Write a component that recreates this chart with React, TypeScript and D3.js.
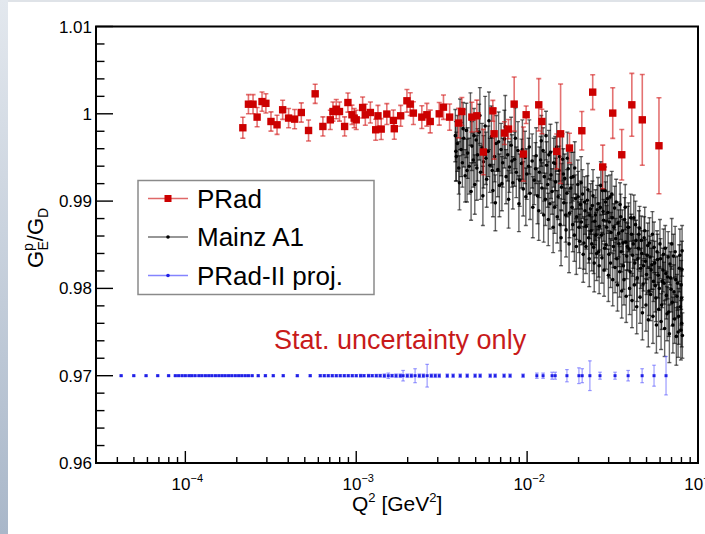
import React from "react";
import * as d3 from "d3";

// ---------- DATA ----------
const pradQ2 = [
  2.17e-4, 2.34e-4, 2.49e-4, 2.63e-4, 2.81e-4, 2.96e-4, 3.17e-4, 3.44e-4, 3.71e-4, 4.02e-4,
  4.36e-4, 4.77e-4, 5.26e-4, 5.75e-4, 6.38e-4, 7.05e-4, 7.31e-4, 7.64e-4, 7.98e-4, 8.55e-4,
  8.94e-4, 9.44e-4, 9.73e-4, 1.0e-3, 1.09e-3, 1.13e-3, 1.21e-3, 1.30e-3, 1.34e-3, 1.40e-3,
  1.51e-3, 1.65e-3, 1.67e-3, 1.82e-3, 1.98e-3, 2.07e-3, 2.16e-3, 2.42e-3, 2.59e-3, 2.71e-3,
  3.06e-3, 3.24e-3, 3.52e-3, 3.97e-3, 4.15e-3, 4.75e-3, 5.08e-3, 5.55e-3, 6.30e-3, 6.41e-3,
  7.37e-3, 7.78e-3, 8.4e-3, 9.51e-3, 9.87e-3, 0.0117, 0.0122, 0.0149, 0.0157, 0.0177,
  0.0209, 0.0242, 0.0277, 0.0317, 0.0358, 0.041, 0.0472, 0.0591,
];
const pradG = [
  0.9984, 1.0011, 1.0011, 0.99962, 1.0014, 1.0012, 0.99912, 0.99874, 1.00046, 0.99951,
  0.99939, 1.00015, 0.99809, 1.00229, 0.99855, 0.99931, 1.00026, 1.00053, 1.00026, 0.99855,
  1.00129, 0.99989, 0.99951, 0.99931, 1.00072, 0.99989, 1.00015, 0.99817, 0.99977, 0.99825,
  0.99997, 0.99924, 0.99829, 0.99977, 1.00149, 1.00111, 1.00008, 0.99962, 0.99989, 0.99912,
  1.0, 1.00076, 0.99962, 0.99894, 1.00026, 0.99962, 0.99977, 0.99562, 1.00034, 0.99771,
  0.99779, 0.99825, 1.00111, 0.99539, 0.99989, 1.00103, 0.99912, 0.99569, 0.99771, 0.99608,
  0.99806, 1.00248, 0.99391, 1.00008, 0.99531, 1.00103, 0.99931, 0.99634,
];
const pradErr = [
  0.0012, 0.0011, 0.0011, 0.0011, 0.0011, 0.0011, 0.0011, 0.0011, 0.0011, 0.0011,
  0.0011, 0.0011, 0.0012, 0.0011, 0.0011, 0.0011, 0.0011, 0.0011, 0.0011, 0.0011,
  0.0011, 0.0011, 0.0011, 0.0011, 0.0012, 0.0012, 0.0012, 0.0012, 0.0012, 0.0012,
  0.0012, 0.0012, 0.0012, 0.0012, 0.0013, 0.0013, 0.0013, 0.0013, 0.0013, 0.0013,
  0.0013, 0.0014, 0.0015, 0.0017, 0.0016, 0.0017, 0.0018, 0.0026, 0.0012, 0.0029,
  0.0013, 0.0011, 0.0031, 0.0031, 0.001, 0.003, 0.0014, 0.002, 0.0057, 0.0017,
  0.0022, 0.002, 0.0025, 0.0029, 0.0029, 0.0036, 0.0052, 0.0055,
];

// Mainz A1: [Q2, GE/GD, stat. error]
const mainzA1: [number, number, number][] = [
  [0.0038, 0.9975, 0.003], [0.00385, 0.9951, 0.0028], [0.00391, 0.9966, 0.0032], [0.00398, 0.9938, 0.003],
  [0.00405, 0.9988, 0.0029], [0.00411, 0.9959, 0.0031], [0.00418, 0.9944, 0.0028], [0.00426, 0.9972, 0.0033],
  [0.00434, 0.9929, 0.003], [0.00441, 0.9981, 0.0031], [0.00449, 0.9955, 0.0029], [0.00458, 0.994, 0.0032],
  [0.00466, 0.9994, 0.003], [0.00475, 0.9963, 0.0028], [0.00484, 0.9947, 0.0031], [0.00494, 0.9919, 0.0034],
  [0.00503, 0.997, 0.0029], [0.00513, 0.9953, 0.003], [0.00524, 0.9979, 0.0032], [0.00534, 0.9933, 0.0031],
  [0.00545, 0.9961, 0.0028], [0.00556, 0.9945, 0.003], [0.00568, 0.9986, 0.0034], [0.0058, 0.9925, 0.0032],
  [0.00592, 0.9957, 0.0029], [0.00605, 0.9941, 0.0031], [0.00618, 0.9974, 0.0035], [0.00631, 0.9912, 0.003],
  [0.00645, 0.9951, 0.0029], [0.00659, 0.9966, 0.0032], [0.00674, 0.9936, 0.0031], [0.00689, 0.9918, 0.0036],
  [0.00704, 0.9959, 0.003], [0.0072, 0.9944, 0.0028], [0.00736, 0.9971, 0.0033], [0.00753, 0.9928, 0.0031],
  [0.0077, 0.9953, 0.003], [0.00788, 0.9939, 0.0029], [0.00806, 0.9964, 0.0032], [0.00825, 0.9921, 0.003],
  [0.00844, 0.9948, 0.0031], [0.00864, 0.9933, 0.0029], [0.00884, 0.9958, 0.0033], [0.00905, 0.9924, 0.003],
  [0.00927, 0.9943, 0.0028], [0.00949, 0.9914, 0.0031], [0.00972, 0.995, 0.003], [0.00995, 0.9931, 0.0029],
  [0.0102, 0.994, 0.0032], [0.0104, 0.9909, 0.003], [0.0107, 0.9946, 0.0031], [0.011, 0.9924, 0.0028],
  [0.0112, 0.9937, 0.003], [0.0115, 0.9906, 0.0032], [0.0118, 0.9933, 0.0029],
  [0.00383, 0.9957, 0.0034], [0.00402, 0.9921, 0.0031], [0.00422, 0.9983, 0.003], [0.00445, 0.9935, 0.0036],
  [0.0047, 0.9911, 0.0033], [0.00489, 0.9975, 0.0031], [0.00508, 0.9938, 0.0037], [0.00529, 0.9998, 0.0032],
  [0.00551, 0.9906, 0.0034], [0.00574, 0.9949, 0.003], [0.00598, 0.9992, 0.0033], [0.00625, 0.9935, 0.0037],
  [0.00652, 0.9898, 0.0032], [0.00681, 0.9968, 0.0034], [0.00712, 0.992, 0.0031], [0.00745, 0.9985, 0.0036],
  [0.00779, 0.9902, 0.0033], [0.00815, 0.9946, 0.003], [0.00854, 0.9972, 0.0035], [0.00895, 0.9897, 0.0032],
  [0.00938, 0.9959, 0.0034], [0.00983, 0.9905, 0.0033], [0.0103, 0.9962, 0.0031], [0.0108, 0.9893, 0.0035],
  [0.0113, 0.9952, 0.0032], [0.0117, 0.9889, 0.0034],
  [0.012, 0.9947, 0.0027], [0.0122, 0.9915, 0.0029], [0.0124, 0.9958, 0.0026], [0.0126, 0.9928, 0.0028],
  [0.0128, 0.9902, 0.003], [0.013, 0.9941, 0.0027], [0.0132, 0.9919, 0.0026], [0.0134, 0.9953, 0.0028],
  [0.0136, 0.9897, 0.0029], [0.0138, 0.993, 0.0027], [0.014, 0.9911, 0.0026], [0.0143, 0.9944, 0.0028],
  [0.0145, 0.9893, 0.003], [0.0147, 0.9922, 0.0027], [0.0149, 0.9962, 0.0028], [0.0152, 0.9905, 0.0026],
  [0.0154, 0.9935, 0.0028], [0.0156, 0.9873, 0.003], [0.0159, 0.9916, 0.0027], [0.0161, 0.9948, 0.0029],
  [0.0164, 0.9898, 0.0026], [0.0166, 0.9926, 0.0028], [0.0169, 0.9867, 0.0031], [0.0171, 0.9909, 0.0027],
  [0.0174, 0.9937, 0.0026], [0.0177, 0.9886, 0.0028], [0.018, 0.9915, 0.0027], [0.0183, 0.9893, 0.0026],
  [0.0186, 0.9928, 0.0028], [0.0189, 0.9861, 0.003], [0.0192, 0.9903, 0.0027], [0.0195, 0.9882, 0.0026],
  [0.0198, 0.9919, 0.0028], [0.0201, 0.987, 0.0029], [0.0205, 0.9896, 0.0027], [0.0208, 0.9876, 0.0026],
  [0.0211, 0.9908, 0.0028], [0.0215, 0.9852, 0.003], [0.0218, 0.9889, 0.0027], [0.0222, 0.9871, 0.0026],
  [0.0225, 0.9901, 0.0028], [0.0229, 0.9858, 0.0029], [0.0233, 0.9884, 0.0027], [0.0237, 0.9866, 0.0026],
  [0.0241, 0.9895, 0.0028], [0.0245, 0.9847, 0.003], [0.0249, 0.9877, 0.0027], [0.0253, 0.9861, 0.0026],
  [0.0257, 0.989, 0.0028], [0.0262, 0.9842, 0.0029], [0.0265, 0.9871, 0.0027],
  [0.0121, 0.9969, 0.0029], [0.0125, 0.9884, 0.0031], [0.0129, 0.9975, 0.0028], [0.0133, 0.9879, 0.003],
  [0.0137, 0.9956, 0.0032], [0.0142, 0.987, 0.0029], [0.0146, 0.9943, 0.0031], [0.015, 0.9882, 0.003],
  [0.0155, 0.9951, 0.0028], [0.0158, 0.9858, 0.0032], [0.0163, 0.9931, 0.0029], [0.0168, 0.9884, 0.0031],
  [0.0172, 0.9949, 0.003], [0.0176, 0.9851, 0.0033], [0.0181, 0.9927, 0.0029], [0.0185, 0.9873, 0.0031],
  [0.019, 0.9938, 0.003], [0.0194, 0.9848, 0.0032], [0.0199, 0.9905, 0.0029], [0.0203, 0.9854, 0.0031],
  [0.0207, 0.9921, 0.003], [0.0213, 0.9839, 0.0032], [0.0217, 0.9899, 0.0029], [0.0221, 0.9848, 0.0031],
  [0.0227, 0.9913, 0.003], [0.0231, 0.9834, 0.0032], [0.0235, 0.9891, 0.0029], [0.0239, 0.9851, 0.0031],
  [0.0243, 0.9906, 0.003], [0.0247, 0.9829, 0.0033], [0.0251, 0.9884, 0.0029], [0.0255, 0.984, 0.0031],
  [0.026, 0.9897, 0.003], [0.0264, 0.9826, 0.0032],
  [0.0268, 0.9893, 0.0025], [0.0272, 0.9861, 0.0023], [0.0276, 0.9912, 0.0027], [0.028, 0.9878, 0.0024],
  [0.0284, 0.9846, 0.0026], [0.0288, 0.9899, 0.0023], [0.0292, 0.987, 0.0025], [0.0297, 0.9887, 0.0024],
  [0.0301, 0.9839, 0.0027], [0.0306, 0.9905, 0.0025], [0.031, 0.9864, 0.0023], [0.0315, 0.9881, 0.0026],
  [0.032, 0.9848, 0.0024], [0.0325, 0.9892, 0.0025], [0.033, 0.9857, 0.0023], [0.0335, 0.9834, 0.0027],
  [0.034, 0.9875, 0.0024], [0.0345, 0.9851, 0.0026], [0.035, 0.9896, 0.0025], [0.0355, 0.9842, 0.0023],
  [0.0361, 0.9866, 0.0024], [0.0366, 0.9826, 0.0027], [0.0372, 0.9879, 0.0025], [0.0378, 0.9853, 0.0023],
  [0.0383, 0.9837, 0.0026], [0.0389, 0.987, 0.0024], [0.0395, 0.9845, 0.0025], [0.0401, 0.9819, 0.0027],
  [0.0408, 0.9862, 0.0023], [0.0414, 0.9838, 0.0024], [0.0421, 0.9881, 0.0026], [0.0427, 0.9829, 0.0025],
  [0.0434, 0.9855, 0.0023], [0.0441, 0.9812, 0.0027], [0.0448, 0.9846, 0.0024], [0.0455, 0.9869, 0.0025],
  [0.0462, 0.9823, 0.0023], [0.0469, 0.984, 0.0026], [0.0477, 0.9805, 0.0027], [0.0484, 0.9858, 0.0024],
  [0.0492, 0.9831, 0.0025], [0.05, 0.9816, 0.0023], [0.0508, 0.9849, 0.0026], [0.0516, 0.9797, 0.0028],
  [0.0524, 0.9836, 0.0024], [0.0532, 0.9821, 0.0025], [0.0541, 0.9862, 0.0026], [0.0549, 0.9808, 0.0023],
  [0.0558, 0.9829, 0.0025], [0.0567, 0.9789, 0.0027], [0.0576, 0.9842, 0.0024], [0.0585, 0.9815, 0.0026],
  [0.0594, 0.98, 0.0025], [0.0604, 0.9834, 0.0023], [0.0613, 0.9781, 0.0028], [0.0623, 0.9821, 0.0025],
  [0.0633, 0.9806, 0.0024], [0.0643, 0.9846, 0.0026], [0.0653, 0.9792, 0.0027], [0.0664, 0.9813, 0.0025],
  [0.0674, 0.9773, 0.0028], [0.0685, 0.9828, 0.0024], [0.0696, 0.9799, 0.0026], [0.0707, 0.9784, 0.0027],
  [0.0718, 0.9837, 0.0025], [0.073, 0.9765, 0.0028], [0.0741, 0.981, 0.0026], [0.0753, 0.9791, 0.0025],
  [0.0765, 0.975, 0.0029], [0.0777, 0.9823, 0.0027], [0.079, 0.9779, 0.0026], [0.0797, 0.9804, 0.0028],
  [0.0803, 0.976, 0.0027], [0.0807, 0.9843, 0.0029], [0.081, 0.9746, 0.0026],
  [0.027, 0.9918, 0.0027], [0.0274, 0.9835, 0.0029], [0.0278, 0.9888, 0.0026], [0.0282, 0.9821, 0.003],
  [0.0286, 0.9912, 0.0027], [0.029, 0.985, 0.0028], [0.0295, 0.9903, 0.0026], [0.0299, 0.9815, 0.003],
  [0.0303, 0.9876, 0.0027], [0.0308, 0.9829, 0.0028], [0.0313, 0.9908, 0.0026], [0.0317, 0.981, 0.003],
  [0.0322, 0.987, 0.0027], [0.0327, 0.9824, 0.0029], [0.0332, 0.9899, 0.0026], [0.0338, 0.9804, 0.003],
  [0.0343, 0.9863, 0.0027], [0.0348, 0.9819, 0.0029], [0.0353, 0.9882, 0.0026], [0.0358, 0.9797, 0.0031],
  [0.0364, 0.9852, 0.0027], [0.0369, 0.981, 0.0029], [0.0375, 0.9893, 0.0026], [0.038, 0.9791, 0.003],
  [0.0386, 0.9848, 0.0027], [0.0392, 0.987, 0.0028], [0.0398, 0.98, 0.003], [0.0404, 0.9881, 0.0027],
  [0.0411, 0.9786, 0.0031], [0.0418, 0.9851, 0.0028], [0.0424, 0.9804, 0.0029], [0.0431, 0.9873, 0.0027],
  [0.0438, 0.9779, 0.0031], [0.0445, 0.9834, 0.0028], [0.0451, 0.9862, 0.0027], [0.0458, 0.979, 0.003],
  [0.0466, 0.9855, 0.0028], [0.0473, 0.9772, 0.0031], [0.048, 0.9826, 0.0029], [0.0488, 0.9866, 0.0027],
  [0.0496, 0.9781, 0.003], [0.0504, 0.9838, 0.0028], [0.0512, 0.9764, 0.0031], [0.052, 0.9852, 0.0029],
  [0.0528, 0.9793, 0.003], [0.0537, 0.9827, 0.0028], [0.0545, 0.9768, 0.0031], [0.0553, 0.9847, 0.0029],
  [0.0562, 0.9803, 0.003], [0.0571, 0.9758, 0.0032], [0.058, 0.9833, 0.0029], [0.0589, 0.9776, 0.0031],
  [0.0599, 0.9851, 0.0028], [0.0608, 0.9762, 0.0032], [0.0618, 0.9808, 0.003], [0.0628, 0.9839, 0.0029],
  [0.0638, 0.9754, 0.0032], [0.0648, 0.9817, 0.003], [0.0659, 0.9771, 0.0031], [0.0669, 0.9836, 0.0029],
  [0.068, 0.9748, 0.0033], [0.0691, 0.9812, 0.003], [0.0702, 0.9851, 0.0029], [0.0713, 0.9758, 0.0032],
  [0.0724, 0.9796, 0.0031], [0.0735, 0.9842, 0.0029], [0.0747, 0.9745, 0.0033], [0.0759, 0.9806, 0.0031],
  [0.0771, 0.9768, 0.0032], [0.0784, 0.9838, 0.003], [0.0794, 0.9752, 0.0034], [0.08, 0.9789, 0.0031],
  [0.0805, 0.9822, 0.0032],
];

const proj2Q2 = [
  4.21e-5, 4.99e-5, 5.89e-5, 6.89e-5, 7.98e-5,
  8.74e-5, 9.13e-5, 9.57e-5, 1.0e-4, 1.05e-4, 1.09e-4, 1.14e-4, 1.2e-4, 1.25e-4, 1.31e-4, 1.37e-4, 1.43e-4,
  1.5e-4, 1.57e-4, 1.64e-4, 1.71e-4, 1.79e-4, 1.87e-4, 1.96e-4, 2.05e-4, 2.14e-4, 2.24e-4, 2.34e-4, 2.46e-4,
  2.67e-4, 2.94e-4, 3.27e-4, 3.74e-4, 4.52e-4, 5.38e-4,
  6.16e-4, 6.5e-4, 6.86e-4, 7.24e-4, 7.64e-4, 8.06e-4, 8.51e-4, 8.98e-4, 9.48e-4, 1.0e-3, 1.06e-3,
  1.11e-3, 1.18e-3, 1.24e-3, 1.31e-3, 1.38e-3, 1.46e-3, 1.54e-3, 1.62e-3, 1.71e-3, 1.81e-3, 1.88e-3,
  1.99e-3, 2.1e-3, 2.21e-3, 2.34e-3, 2.47e-3, 2.6e-3, 2.75e-3, 2.9e-3, 3.06e-3,
  3.41e-3, 3.69e-3, 4.06e-3, 4.46e-3, 4.96e-3, 5.31e-3, 6.08e-3, 6.5e-3, 7.33e-3, 7.95e-3, 9.47e-3,
  0.0114, 0.0124, 0.014, 0.0146, 0.0171, 0.0201, 0.021, 0.0233, 0.0267, 0.0327, 0.039, 0.0471, 0.0553, 0.065,
];
const proj2Err = [
  0.00008, 0.00008, 0.00008, 0.00008, 0.00008,
  0.00008, 0.00008, 0.00008, 0.00008, 0.00008, 0.00008, 0.00008, 0.00008, 0.00008, 0.00008, 0.00008, 0.00008,
  0.00008, 0.00008, 0.00008, 0.00008, 0.00008, 0.00008, 0.00008, 0.00008, 0.00008, 0.00008, 0.00008, 0.00008,
  0.0001, 0.0001, 0.0001, 0.0001, 0.0001, 0.0001,
  0.00012, 0.00012, 0.00012, 0.00012, 0.00012, 0.00012, 0.00012, 0.00012, 0.00012, 0.00012, 0.00015,
  0.00012, 0.00015, 0.00012, 0.00015, 0.00015, 0.0002, 0.0003, 0.00015, 0.0002, 0.0002, 0.0006,
  0.0002, 0.0002, 0.0008, 0.0002, 0.0002, 0.0013, 0.0002, 0.0002, 0.0002,
  0.0002, 0.0002, 0.0002, 0.0002, 0.0002, 0.0002, 0.0002, 0.0002, 0.0002, 0.0002, 0.0002,
  0.0003, 0.0003, 0.0004, 0.0004, 0.0007, 0.0009, 0.0008, 0.0017, 0.0004, 0.0004, 0.0006, 0.0008, 0.0012, 0.0022,
];
const proj2G = 0.97;

const yTickValues = [0.96, 0.97, 0.98, 0.99, 1.0, 1.01];
const yTickLabels = ["0.96", "0.97", "0.98", "0.99", "1", "1.01"];
const xDecades = [1e-4, 1e-3, 1e-2, 1e-1];
const xDecadeExps = ["\u22124", "\u22123", "\u22122", "\u22121"];

const legendLabels = ["PRad", "Mainz A1", "PRad-II proj."];
const noteText = "Stat. uncertainty only";

// ---------- STYLE ----------
const W = 705;
const H = 534;
const FONT = "'Liberation Sans', Arial, Helvetica, sans-serif";
const RED = "#cc0000";
const RED_BAR = "rgba(210,20,20,0.6)";
const BLACK_BAR = "rgba(0,0,0,0.6)";
const BLUE = "#2020e6";
const BLUE_BAR = "rgba(90,90,255,0.6)";

function ErrBar({ cx, y0, y1, cap, stroke, sw }: any) {
  return (
    <g stroke={stroke} strokeWidth={sw}>
      <line x1={cx} x2={cx} y1={y0} y2={y1} />
      <line x1={cx - cap} x2={cx + cap} y1={y0} y2={y0} />
      <line x1={cx - cap} x2={cx + cap} y1={y1} y2={y1} />
    </g>
  );
}

export default function App() {
  const left = 96, right = 698, top = 26.5, bottom = 463;
  const x = d3.scaleLog().domain([3e-5, 0.1]).range([left, right]);
  const y = d3.scaleLinear().domain([0.96, 1.01]).range([bottom, top]);

  const yMinor = d3.range(0, 26).map((i) => 0.96 + i * 0.002).filter((_, i) => i % 5 !== 0);
  const xMinor: number[] = [];
  for (let e = -5; e <= -2; e++) {
    for (let k = 2; k <= 9; k++) {
      const v = k * Math.pow(10, e);
      if (v > 3e-5 && v < 0.1) xMinor.push(v);
    }
  }

  const legendRows = [
    { label: legendLabels[0], color: RED, line: "rgba(210,40,40,0.7)", marker: "square" },
    { label: legendLabels[1], color: "#000", line: "rgba(0,0,0,0.55)", marker: "dot" },
    { label: legendLabels[2], color: BLUE, line: "rgba(80,80,255,0.7)", marker: "dot" },
  ];

  return (
    <svg
      width={W}
      height={H}
      style={{ position: "absolute", left: 0, top: 0, background: "#fff" }}
      fontFamily={FONT}
    >
      <defs>
        <linearGradient id="edge" x1="0" y1="0" x2="0" y2="1">
          <stop offset="0" stopColor="#e3e8ee" />
          <stop offset="1" stopColor="#a9b7c9" />
        </linearGradient>
        <clipPath id="plotclip">
          <rect x={left} y={top} width={right - left} height={bottom - top} />
        </clipPath>
      </defs>
      <rect x={0} y={0} width={W} height={H} fill="#fff" />
      <rect x={0} y={0} width={W} height={2} fill="#dfe3e8" />
      <rect x={0} y={0} width={8} height={H} fill="url(#edge)" />

      <g clipPath="url(#plotclip)">
        {/* Mainz A1 */}
        {mainzA1.map(([q, g, e], i) => (
          <ErrBar key={"mb" + i} cx={x(q)} y0={y(g + e)} y1={y(g - e)} cap={2} stroke={BLACK_BAR} sw={1.4} />
        ))}
        {mainzA1.map(([q, g], i) => (
          <circle key={"mp" + i} cx={x(q)} cy={y(g)} r={1.8} fill="#000" />
        ))}

        {/* PRad */}
        {pradQ2.map((q, i) => (
          <ErrBar key={"pb" + i} cx={x(q)} y0={y(pradG[i] + pradErr[i])} y1={y(pradG[i] - pradErr[i])} cap={2.5} stroke={RED_BAR} sw={1.6} />
        ))}
        {pradQ2.map((q, i) => (
          <rect key={"pp" + i} x={x(q) - 3.7} y={y(pradG[i]) - 3.7} width={7.4} height={7.4} fill={RED} />
        ))}

        {/* PRad-II projection */}
        {proj2Q2.map((q, i) => (
          <ErrBar key={"bb" + i} cx={x(q)} y0={y(proj2G + proj2Err[i])} y1={y(proj2G - proj2Err[i])} cap={1.8} stroke={BLUE_BAR} sw={1.2} />
        ))}
        {proj2Q2.map((q, i) => (
          <rect key={"bp" + i} x={x(q) - 1.5} y={y(proj2G) - 1.5} width={3} height={3} fill={BLUE} />
        ))}
      </g>

      {/* frame */}
      <rect x={left} y={top} width={right - left} height={bottom - top} fill="none" stroke="#000" strokeWidth={2} />

      {/* y ticks */}
      <g stroke="#000" strokeWidth={1.4}>
        {yTickValues.map((v) => (
          <line key={"ym" + v} x1={left} x2={left + 17} y1={y(v)} y2={y(v)} />
        ))}
        {yMinor.map((v, i) => (
          <line key={"yn" + i} x1={left} x2={left + 8.5} y1={y(v)} y2={y(v)} />
        ))}
      </g>
      <g fontSize={17} textAnchor="end" fill="#000">
        {yTickValues.map((v, i) => (
          <text key={"yl" + v} x={92} y={y(v) + 6}>
            {yTickLabels[i]}
          </text>
        ))}
      </g>

      {/* x ticks */}
      <g stroke="#000" strokeWidth={1.4}>
        {xDecades.map((v) => (
          <line key={"xm" + v} x1={x(v)} x2={x(v)} y1={bottom} y2={bottom - 12} />
        ))}
        {xMinor.map((v, i) => (
          <line key={"xn" + i} x1={x(v)} x2={x(v)} y1={bottom} y2={bottom - 6} />
        ))}
      </g>
      <g fontSize={17} textAnchor="middle" fill="#000">
        {xDecades.map((v, i) => (
          <text key={"xl" + v} x={x(v) + 2} y={490}>
            10
            <tspan fontSize={11} dy={-8}>
              {xDecadeExps[i]}
            </tspan>
          </text>
        ))}
      </g>

      {/* axis titles */}
      <text x={352} y={511} fontSize={21} fill="#000">
        Q
        <tspan fontSize={13} dy={-9}>2</tspan>
        <tspan dy={9}> [GeV</tspan>
        <tspan fontSize={13} dy={-9}>2</tspan>
        <tspan dy={9}>]</tspan>
      </text>
      <g transform="translate(43,268) rotate(-90)">
        <text x={0} y={0} fontSize={22} fill="#000">
          G
          <tspan fontSize={14} dy={-10}>p</tspan>
          <tspan fontSize={14} dx={-7.5} dy={15}>E</tspan>
          <tspan dy={-5}>/G</tspan>
          <tspan fontSize={14} dy={5}>D</tspan>
        </text>
      </g>

      {/* legend */}
      <rect x={138} y={180.5} width={236} height={114} fill="#fff" stroke="#8a8a8a" strokeWidth={1.5} />
      {legendRows.map((r, i) => {
        const cy = 198.5 + i * 38.5;
        return (
          <g key={"lg" + i}>
            <line x1={148} x2={188} y1={cy} y2={cy} stroke={r.line} strokeWidth={1.5} />
            {r.marker === "square" ? (
              <rect x={164.5} y={cy - 3.5} width={7} height={7} fill={r.color} />
            ) : (
              <circle cx={168} cy={cy} r={1.8} fill={r.color} />
            )}
            <text x={197} y={cy + 9} fontSize={26} fill="#000">
              {r.label}
            </text>
          </g>
        );
      })}

      {/* note */}
      <text x={274} y={349} fontSize={27} fill="#c81a1a">
        {noteText}
      </text>
    </svg>
  );
}
